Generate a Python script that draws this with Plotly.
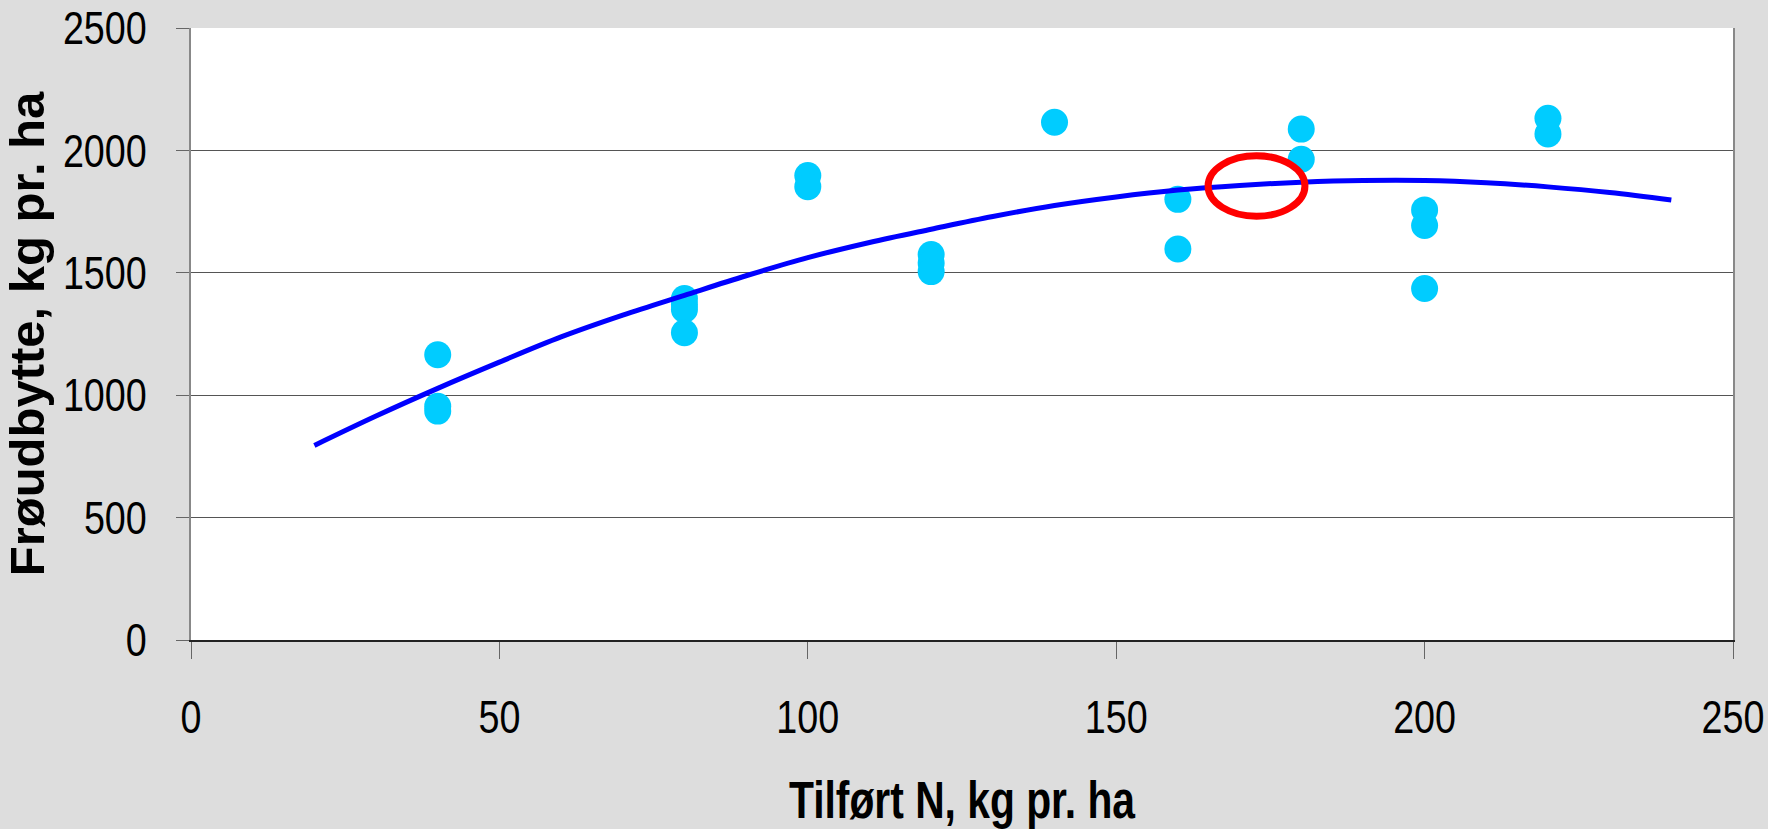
import plotly.graph_objects as go

# Observed data points (Tilført N, Frøudbytte)
n_applied = [40, 40, 40, 80, 80, 80, 80, 100, 100, 120, 120, 120, 140,
             160, 160, 180, 180, 200, 200, 200, 220, 220]
seed_yield = [1165, 955, 935, 1395, 1370, 1350, 1255, 1897, 1852, 1575, 1540, 1505, 2115,
              1800, 1597, 2087, 1964, 1757, 1693, 1436, 2131, 2067]

# Trend curve
curve_x = [20, 30, 40, 50, 60, 70, 80, 90, 100, 110, 120, 130, 140, 150,
           160, 170, 180, 190, 200, 210, 220, 230, 240]
curve_y = [795, 915, 1028, 1135, 1238, 1327, 1408, 1488, 1562, 1624, 1678, 1730, 1775, 1810,
           1838, 1857, 1870, 1877, 1877, 1868, 1851, 1828, 1797]

x_ticks = [0, 50, 100, 150, 200, 250]
y_ticks = [0, 500, 1000, 1500, 2000, 2500]

# Highlight ellipse (data units)
ellipse_x = [164.9, 180.6]
ellipse_y = [1731, 1978]

FONT = "Liberation Sans Narrow, Arial Narrow, Liberation Sans, Arial, sans-serif"
WIDE = "Liberation Sans, Arial, sans-serif"

fig = go.Figure()
fig.add_trace(go.Scatter(
    x=n_applied, y=seed_yield, mode="markers",
    marker=dict(color="#00CCFF", size=27, line=dict(width=0)),
    showlegend=False, hoverinfo="x+y"))
fig.add_trace(go.Scatter(
    x=curve_x, y=curve_y, mode="lines", line=dict(color="#0000FF", width=5, shape="spline"),
    showlegend=False))

fig.add_shape(type="circle", xref="x", yref="y",
              x0=ellipse_x[0], x1=ellipse_x[1], y0=ellipse_y[0], y1=ellipse_y[1],
              line=dict(color="#FF0000", width=7), layer="above")

fig.update_layout(
    width=1768, height=829,
    margin=dict(l=191, r=35, t=28, b=189, pad=0),
    paper_bgcolor="#DDDDDD", plot_bgcolor="#FFFFFF",
    font=dict(family=FONT, color="#000000", size=46),
)
fig.update_xaxes(
    range=[0, 250], tickvals=x_ticks, ticktext=[str(v) for v in x_ticks],
    showgrid=False, zeroline=False, automargin=False,
    showline=True, linecolor="#222222", linewidth=2,
    ticks="outside", ticklen=17, tickcolor="#666666", tickwidth=1,
    ticklabelstandoff=19, ticklabeloverflow="allow",
    tickfont=dict(family=FONT, size=46),
    title=dict(text="<b>Tilført N, kg pr. ha</b>", font=dict(family=FONT, size=51), standoff=51),
)
fig.update_yaxes(
    range=[0, 2500], tickvals=y_ticks, ticktext=[str(v) for v in y_ticks],
    showgrid=True, gridcolor="#555555", gridwidth=1, zeroline=False, automargin=False,
    showline=True, linecolor="#888888", linewidth=2, mirror=True,
    ticks="outside", ticklen=13, tickcolor="#666666", tickwidth=1,
    ticklabelstandoff=20, ticklabeloverflow="allow",
    tickfont=dict(family=FONT, size=46),
    title=dict(text="<b>Frøudbytte, kg pr. ha</b>", font=dict(family=WIDE, size=49), standoff=10),
)

post = """
document.body.style.margin = '0';
document.documentElement.style.overflow = 'hidden';
var gd = document.getElementById('{plot_id}');
function squeeze(sel, s) {
  gd.querySelectorAll(sel).forEach(function (t) {
    var x = parseFloat(t.getAttribute('x')) || 0;
    var tr = t.getAttribute('transform') || '';
    t.setAttribute('transform', tr + ' translate(' + x + ',0) scale(' + s + ',1) translate(' + (-x) + ',0)');
  });
}
squeeze('.xtick text', 0.82);
squeeze('.ytick text', 0.82);
squeeze('.g-xtitle text', 0.8);
"""

fig.write_html("out.html", post_script=post, config={"displayModeBar": False})
